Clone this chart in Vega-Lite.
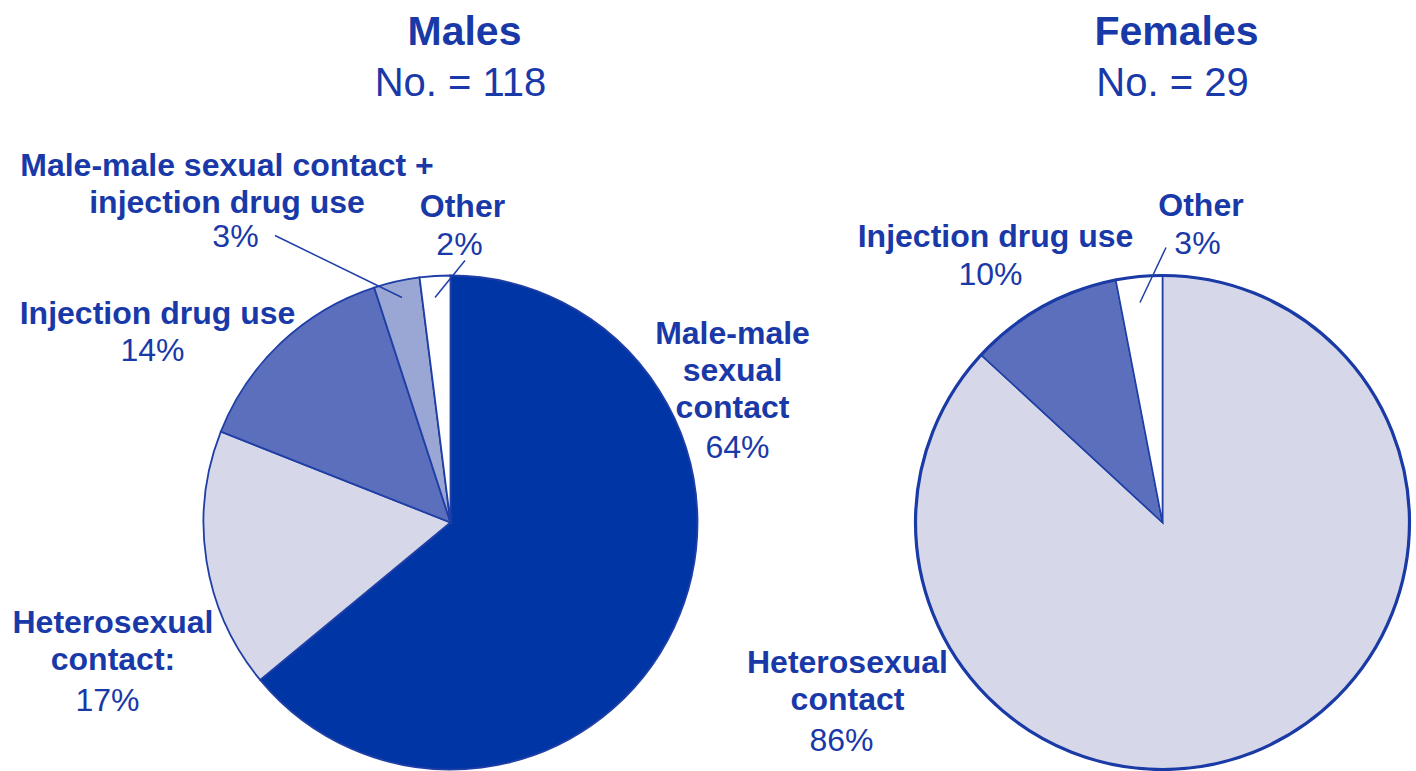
{
  "$schema": "https://vega.github.io/schema/vega-lite/v6.json",
  "width": 1416,
  "height": 497,
  "autosize": {"type": "none"},
  "padding": {"top": 274, "left": 0, "right": 0, "bottom": 0},
  "background": "white",
  "config": {
    "view": {"stroke": null},
    "text": {"font": "Liberation Sans", "fontSize": 32, "color": "#1939a8", "lineBreak": "\n", "lineHeight": 37, "baseline": "alphabetic", "align": "center"}
  },
  "datasets": {
    "slices": [
      {"sex": "Males", "category": "Male-male sexual contact", "label": "Male-male\nsexual\ncontact", "share": 0.64, "order": 1},
      {"sex": "Males", "category": "Heterosexual contact", "label": "Heterosexual\ncontact:", "share": 0.17, "order": 2},
      {"sex": "Males", "category": "Injection drug use", "label": "Injection drug use", "share": 0.14, "order": 3},
      {"sex": "Males", "category": "Male-male sexual contact + injection drug use", "label": "Male-male sexual contact +\ninjection drug use", "share": 0.03, "order": 4},
      {"sex": "Males", "category": "Other", "label": "Other", "share": 0.02, "order": 5},
      {"sex": "Females", "category": "Heterosexual contact", "label": "Heterosexual\ncontact", "share": 0.86, "order": 2},
      {"sex": "Females", "category": "Injection drug use", "label": "Injection drug use", "share": 0.10, "order": 3},
      {"sex": "Females", "category": "Other", "label": "Other", "share": 0.03, "order": 5}
    ],
    "groups": [
      {"sex": "Males", "count_label": "No. = 118"},
      {"sex": "Females", "count_label": "No. = 29"}
    ]
  },
  "data": {"name": "slices"},
  "encoding": {
    "x": {"field": "sex", "type": "nominal", "scale": {"type": "point", "domain": ["Males", "Females"], "padding": 0.49438, "align": 0.63991}, "axis": null}
  },
  "layer": [
    {
      "transform": [{"filter": "datum.sex === 'Males'"}],
      "mark": {"type": "arc", "outerRadius": 247, "stroke": "#1f3fa6", "strokeWidth": 1.8},
      "encoding": {
        "theta": {"field": "share", "type": "quantitative", "stack": true},
        "order": {"field": "order", "type": "quantitative"},
        "color": {"field": "category", "type": "nominal", "legend": null,
          "scale": {"domain": ["Male-male sexual contact", "Heterosexual contact", "Injection drug use", "Male-male sexual contact + injection drug use", "Other"],
                    "range": ["#0035a6", "#d6d8e9", "#5b6fbc", "#9aa6d4", "#ffffff"]}}
      }
    },
    {
      "transform": [{"filter": "datum.sex === 'Females'"}],
      "mark": {"type": "arc", "outerRadius": 247, "stroke": "#1f3fa6", "strokeWidth": 1.6},
      "encoding": {
        "theta": {"field": "share", "type": "quantitative", "stack": true},
        "order": {"field": "order", "type": "quantitative"},
        "color": {"field": "category", "type": "nominal", "legend": null}
      }
    },
    {
      "data": {"name": "groups"},
      "transform": [{"filter": "datum.sex === 'Females'"}],
      "mark": {"type": "point", "shape": "circle", "size": 244036, "filled": false, "stroke": "#1a3aa6", "strokeWidth": 3.2, "opacity": 1},
      "encoding": {}
    },
    {
      "transform": [{"filter": "datum.sex === 'Males' && datum.order === 4"}],
      "mark": {"type": "point", "shape": "M-175.5,-287L-48.5,-225", "size": 4, "filled": false, "stroke": "#1f3fa6", "strokeWidth": 1.5, "opacity": 1},
      "encoding": {}
    },
    {
      "transform": [{"filter": "datum.sex === 'Males' && datum.order === 5"}],
      "mark": {"type": "point", "shape": "M14.5,-262L-15.5,-225", "size": 4, "filled": false, "stroke": "#1f3fa6", "strokeWidth": 1.5, "opacity": 1},
      "encoding": {}
    },
    {
      "transform": [{"filter": "datum.sex === 'Females' && datum.order === 5"}],
      "mark": {"type": "point", "shape": "M3.5,-275L-22.5,-220", "size": 4, "filled": false, "stroke": "#1f3fa6", "strokeWidth": 1.5, "opacity": 1},
      "encoding": {}
    },
    {
      "transform": [{"filter": "datum.sex === 'Males' && datum.order === 1"}],
      "mark": {"type": "text", "fontWeight": "bold", "dx": 282, "dy": -179},
      "encoding": {"text": {"field": "label"}}
    },
    {
      "transform": [{"filter": "datum.sex === 'Males' && datum.order === 1"}],
      "mark": {"type": "text", "dx": 287, "dy": -65},
      "encoding": {"text": {"field": "share", "type": "quantitative", "format": ".0%"}}
    },
    {
      "transform": [{"filter": "datum.sex === 'Males' && datum.order === 2"}],
      "mark": {"type": "text", "fontWeight": "bold", "dx": -337.5, "dy": 110},
      "encoding": {"text": {"field": "label"}}
    },
    {
      "transform": [{"filter": "datum.sex === 'Males' && datum.order === 2"}],
      "mark": {"type": "text", "dx": -343, "dy": 188},
      "encoding": {"text": {"field": "share", "type": "quantitative", "format": ".0%"}}
    },
    {
      "transform": [{"filter": "datum.sex === 'Males' && datum.order === 3"}],
      "mark": {"type": "text", "fontWeight": "bold", "dx": -293, "dy": -199},
      "encoding": {"text": {"field": "label"}}
    },
    {
      "transform": [{"filter": "datum.sex === 'Males' && datum.order === 3"}],
      "mark": {"type": "text", "dx": -298, "dy": -162},
      "encoding": {"text": {"field": "share", "type": "quantitative", "format": ".0%"}}
    },
    {
      "transform": [{"filter": "datum.sex === 'Males' && datum.order === 4"}],
      "mark": {"type": "text", "fontWeight": "bold", "dx": -223.5, "dy": -347},
      "encoding": {"text": {"field": "label"}}
    },
    {
      "transform": [{"filter": "datum.sex === 'Males' && datum.order === 4"}],
      "mark": {"type": "text", "dx": -215, "dy": -276},
      "encoding": {"text": {"field": "share", "type": "quantitative", "format": ".0%"}}
    },
    {
      "transform": [{"filter": "datum.sex === 'Males' && datum.order === 5"}],
      "mark": {"type": "text", "fontWeight": "bold", "dx": 12, "dy": -306},
      "encoding": {"text": {"field": "label"}}
    },
    {
      "transform": [{"filter": "datum.sex === 'Males' && datum.order === 5"}],
      "mark": {"type": "text", "dx": 9, "dy": -268},
      "encoding": {"text": {"field": "share", "type": "quantitative", "format": ".0%"}}
    },
    {
      "transform": [{"filter": "datum.sex === 'Females' && datum.order === 2"}],
      "mark": {"type": "text", "fontWeight": "bold", "dx": -315, "dy": 150},
      "encoding": {"text": {"field": "label"}}
    },
    {
      "transform": [{"filter": "datum.sex === 'Females' && datum.order === 2"}],
      "mark": {"type": "text", "dx": -321, "dy": 228},
      "encoding": {"text": {"field": "share", "type": "quantitative", "format": ".0%"}}
    },
    {
      "transform": [{"filter": "datum.sex === 'Females' && datum.order === 3"}],
      "mark": {"type": "text", "fontWeight": "bold", "dx": -167, "dy": -276},
      "encoding": {"text": {"field": "label"}}
    },
    {
      "transform": [{"filter": "datum.sex === 'Females' && datum.order === 3"}],
      "mark": {"type": "text", "dx": -172, "dy": -238},
      "encoding": {"text": {"field": "share", "type": "quantitative", "format": ".0%"}}
    },
    {
      "transform": [{"filter": "datum.sex === 'Females' && datum.order === 5"}],
      "mark": {"type": "text", "fontWeight": "bold", "dx": 38.5, "dy": -307},
      "encoding": {"text": {"field": "label"}}
    },
    {
      "transform": [{"filter": "datum.sex === 'Females' && datum.order === 5"}],
      "mark": {"type": "text", "dx": 35, "dy": -269},
      "encoding": {"text": {"field": "share", "type": "quantitative", "format": ".0%"}}
    },
    {
      "data": {"name": "groups"},
      "mark": {"type": "text", "fontWeight": "bold", "fontSize": 41, "dx": 14, "dy": -478},
      "encoding": {"text": {"field": "sex"}}
    },
    {
      "data": {"name": "groups"},
      "mark": {"type": "text", "fontSize": 40, "dx": 10, "dy": -427},
      "encoding": {"text": {"field": "count_label"}}
    }
  ],
  "resolve": {"scale": {"theta": "independent"}}
}
